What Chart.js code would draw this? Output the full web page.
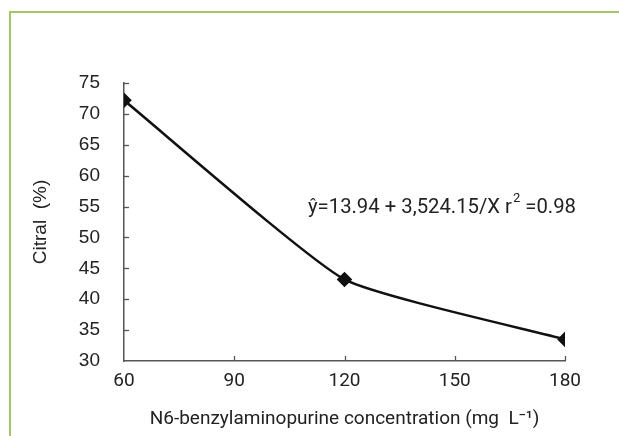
<!DOCTYPE html>
<html>
<head>
<meta charset="utf-8">
<script src="https://cdn.jsdelivr.net/npm/chart.js@4"></script>
<style>
  html, body { margin: 0; padding: 0; background: #fff; }
  #wrap { position: relative; width: 619px; height: 436px; }
  #frame {
    position: absolute; left: 9px; top: 11px; right: 0; bottom: 0;
    border-top: 2px solid #a8c46a; border-left: 2px solid #a8c46a;
  }
  canvas { position: absolute; left: 0; top: 0; }
</style>
</head>
<body>
<div id="wrap">
  <div id="frame"></div>
  <canvas id="myChart" width="619" height="436"></canvas>
</div>
<script>
// values
const concentrations = [60, 120, 180];
const citral = [72.2, 43.2, 33.5];
const xTicks = [60, 90, 120, 150, 180];
const yTicks = [30, 35, 40, 45, 50, 55, 60, 65, 70, 75];
const equation = ['\u0177=13.94 + 3,524.15/X r', '2', ' =0.98'];

const axisColor = '#555';
const textColor = '#222';

// ticks point into the plot, so draw them here from the scales
const innerTicks = {
  id: 'innerTicks',
  afterDraw(chart) {
    const ctx = chart.ctx;
    const x = chart.scales.x, y = chart.scales.y;
    ctx.save();
    ctx.strokeStyle = axisColor;
    ctx.lineWidth = 1.3;
    xTicks.slice(1).forEach(v => {
      const px = Math.round(x.getPixelForValue(v)) + 0.5;
      ctx.beginPath();
      ctx.moveTo(px, y.bottom);
      ctx.lineTo(px, y.bottom - 5);
      ctx.stroke();
    });
    yTicks.slice(1).forEach(v => {
      const py = Math.round(y.getPixelForValue(v)) + 0.5;
      ctx.beginPath();
      ctx.moveTo(x.left, py);
      ctx.lineTo(x.left + 5, py);
      ctx.stroke();
    });
    ctx.restore();
  }
};

// regression text with the superscript
const equationLabel = {
  id: 'equationLabel',
  afterDraw(chart) {
    const ctx = chart.ctx;
    ctx.save();
    ctx.fillStyle = textColor;
    ctx.textBaseline = 'alphabetic';
    ctx.font = '20.3px Roboto';
    let px = 308, py = 213;
    ctx.fillText(equation[0], px, py);
    px += ctx.measureText(equation[0]).width + 1;
    ctx.font = '13px Roboto';
    ctx.fillText(equation[1], px, py - 11);
    px += ctx.measureText(equation[1]).width;
    ctx.font = '20.3px Roboto';
    ctx.fillText(equation[2], px, py);
    ctx.restore();
  }
};

const context = document.getElementById('myChart').getContext('2d');
const myChart = new Chart(context, {
  type: 'line',
  data: {
    datasets: [{
      data: concentrations.map((c, i) => ({ x: c, y: citral[i] })),
      borderColor: '#111',
      backgroundColor: '#111',
      borderWidth: 2.5,
      pointStyle: 'rectRot',
      radius: 6,
      fill: false,
      tension: 0.15
    }]
  },
  options: {
    responsive: false,
    animation: false,
    layout: { padding: { left: 0, top: 83, right: 54, bottom: 0 } },
    plugins: { legend: { display: false }, tooltip: { enabled: false } },
    scales: {
      x: {
        type: 'linear',
        min: 60,
        max: 180,
        afterBuildTicks: s => { s.ticks = xTicks.map(v => ({ value: v })); },
        afterFit: s => { s.height = 75; },
        grid: { display: true, drawOnChartArea: false, drawTicks: false },
        border: { display: true, color: axisColor, width: 1.5 },
        ticks: { color: textColor, padding: 9, font: { family: 'Roboto', size: 19 } },
        title: {
          display: true,
          text: 'N6-benzylaminopurine concentration (mg  L\u207B\u00B9)',
          color: textColor,
          font: { family: 'Roboto', size: 19 },
          padding: { top: 0, bottom: 5 }
        }
      },
      y: {
        min: 30,
        max: 75,
        afterBuildTicks: s => { s.ticks = yTicks.map(v => ({ value: v })); },
        afterFit: s => { s.width = 124; },
        grid: { display: true, drawOnChartArea: false, drawTicks: false },
        border: { display: true, color: axisColor, width: 1.5 },
        ticks: { color: textColor, padding: 24, font: { family: 'Liberation Sans', size: 19 } },
        title: {
          display: true,
          text: 'Citral  (%)',
          color: textColor,
          font: { family: 'Liberation Sans', size: 19 },
          padding: { top: 29, bottom: 0 }
        }
      }
    }
  },
  plugins: [innerTicks, equationLabel]
});
</script>
</body>
</html>
